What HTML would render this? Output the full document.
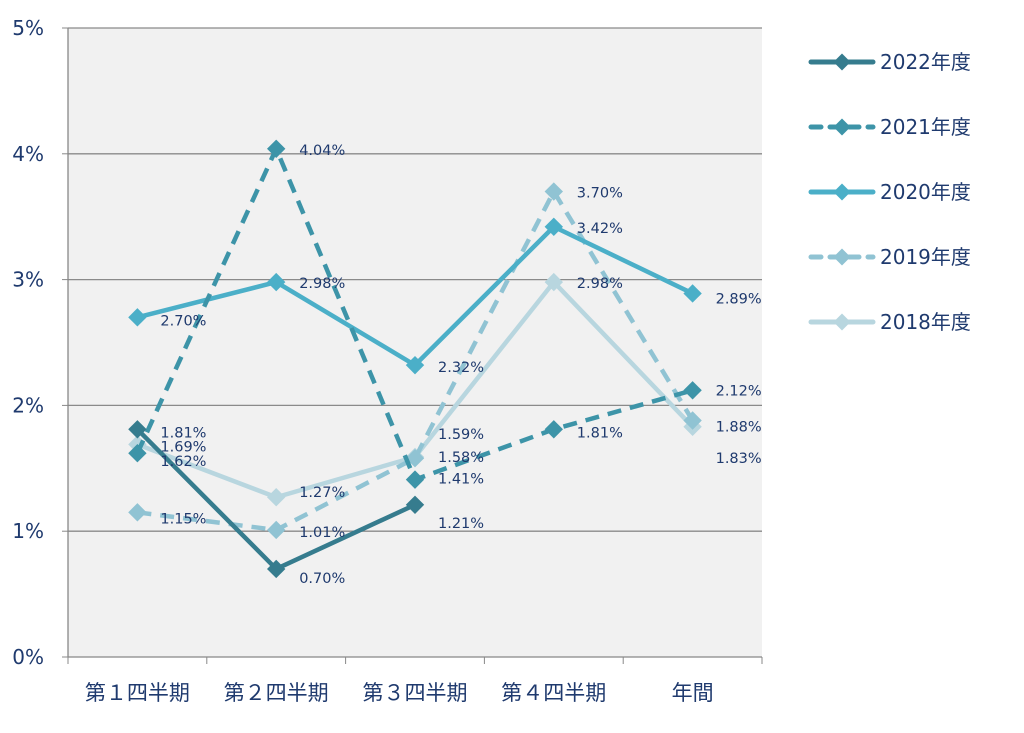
<!DOCTYPE html>
<html><head><meta charset="utf-8">
<style>
html,body{margin:0;padding:0;background:#fff;}
svg{display:block;font-family:"DejaVu Sans","Liberation Sans","Noto Sans CJK JP",sans-serif;}
</style></head>
<body>
<svg id="chart" width="1024" height="733" viewBox="0 0 1024 733" xmlns="http://www.w3.org/2000/svg">
<rect x="68" y="28" width="694" height="629" fill="#f1f1f1"/>
<g id="grid"></g><g id="axes"></g><g id="series"></g><g id="labels"></g><g id="legend"></g>
</svg>
<script>
const categories=["第１四半期","第２四半期","第３四半期","第４四半期","年間"];
const seriesNames=["2018年度","2019年度","2020年度","2021年度","2022年度"];
const v2018=[1.69,1.27,1.59,2.98,1.83];
const v2019=[1.15,1.01,1.58,3.70,1.88];
const v2020=[2.70,2.98,2.32,3.42,2.89];
const v2021=[1.62,4.04,1.41,1.81,2.12];
const v2022=[1.81,0.70,1.21,null,null];
const yTicks=[0,1,2,3,4,5];
const yTickLabels=["0%","1%","2%","3%","4%","5%"];

const NS="http://www.w3.org/2000/svg";
const X0=68,X1=762,Y0=657,Y1=28;
const xS=i=>X0+(X1-X0)/categories.length*(i+0.5);
const yS=v=>Y0-(Y0-Y1)*v/5;
function mk(t,a,p){const e=document.createElementNS(NS,t);for(const k in a)e.setAttribute(k,a[k]);p.appendChild(e);return e;}
const grid=document.getElementById('grid'),axes=document.getElementById('axes'),ser=document.getElementById('series'),lab=document.getElementById('labels'),leg=document.getElementById('legend');
yTicks.forEach((t,i)=>{
  if(t>0){const l=mk('line',{x1:X0,x2:X1,y1:yS(t),y2:yS(t),stroke:'#8a8a8a','stroke-width':1.3},grid);
  
  }
  const tk=mk('line',{x1:X0-6,x2:X0,y1:yS(t),y2:yS(t),stroke:'#888'},axes);
  
  
  const tx=mk('text',{x:44,y:yS(t)+7,'text-anchor':'end','font-size':20,fill:'#1f3a6e'},axes);
  tx.textContent=yTickLabels[i];
  
  
});
const ax=mk('line',{x1:X0,x2:X0,y1:Y1,y2:Y0,stroke:'#888','stroke-width':1.3},axes);


const xa=mk('line',{x1:X0,x2:X1,y1:Y0,y2:Y0,stroke:'#888','stroke-width':1.3},axes);


for(let i=0;i<=categories.length;i++){
  const x=X0+(X1-X0)/categories.length*i;
  const tk=mk('line',{x1:x,x2:x,y1:Y0,y2:Y0+7,stroke:'#888'},axes);
  
  
}
categories.forEach((c,i)=>{
  const t=mk('text',{x:xS(i),y:700,'text-anchor':'middle','font-size':21,fill:'#1f3a6e','font-family':'"Noto Sans CJK JP",sans-serif'},axes);
  t.textContent=c;
  
  
});
const data=[v2018,v2019,v2020,v2021,v2022];
const colors=["#b8d6df","#90c3d3","#4bafc8","#3d94a8","#367c8e"];
const dashes=[null,"14 9",null,"14 9",null];
const labelDy=[[2,-5,-23,1,31],[6,2,-1,1,6],[3,1,2,1,5],[8,1,-1,3,0],[3,9,18,0,0]];
data.forEach((vals,s)=>{
  const pts=[];vals.forEach((v,i)=>{if(v!=null)pts.push([xS(i),yS(v),v,i]);});
  const p=mk('polyline',{points:pts.map(q=>q[0]+','+q[1]).join(' '),fill:'none',stroke:colors[s],'stroke-width':4.5,'stroke-linejoin':'round'},ser);
  if(dashes[s])p.setAttribute('stroke-dasharray',dashes[s]);
  
  
  pts.forEach(q=>{
    const m=mk('rect',{x:q[0]-6.5,y:q[1]-6.5,width:13,height:13,fill:colors[s],transform:`rotate(45 ${q[0]} ${q[1]})`},ser);
    
    
    const t=mk('text',{x:q[0]+23,y:q[1]+5+labelDy[s][q[3]],'font-size':14.5,fill:'#1f3a6e'},lab);
    t.textContent=q[2].toFixed(2)+'%';
    
    
  });
});
for(let k=0;k<5;k++){
  const s=4-k,y=62+k*65;
  const g=mk('g',{},leg);
  
  
  const l=mk('line',{x1:811,x2:873,y1:y,y2:y,stroke:colors[s],'stroke-width':5,'stroke-linecap':'round'},g);
  if(dashes[s])l.setAttribute('stroke-dasharray','10 9');
  mk('rect',{x:836,y:y-6,width:12,height:12,fill:colors[s],transform:`rotate(45 842 ${y})`},g);
  const t=mk('text',{x:880,y:y+7,'font-size':20,fill:'#1f3a6e','font-family':'"DejaVu Sans","Noto Sans CJK JP",sans-serif'},g);
  t.textContent=seriesNames[s];
}
</script>
</body></html>
